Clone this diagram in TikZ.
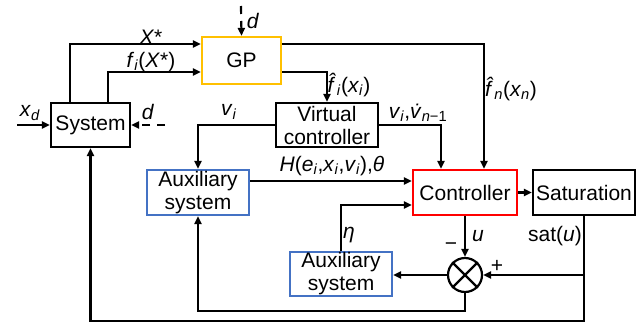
\documentclass[tikz,border=0pt]{standalone}
\usepackage{fontspec}
\setmainfont{Liberation Sans}
\usetikzlibrary{arrows.meta}

\definecolor{gpyellow}{HTML}{FFC000}
\definecolor{auxblue}{HTML}{4472C4}
\newcommand{\varsub}[2]{\textit{#1}\textsubscript{\textit{#2}}}

\begin{document}
\begin{tikzpicture}[x=1pt,y=-1pt,
    every node/.style={font=\fontsize{21}{23}\selectfont},
    block/.style={draw,line width=2.2pt,inner sep=0pt,align=center},
    lbl/.style={inner sep=0pt},
    arr/.style={line width=2.2pt,-{Triangle[length=8pt,width=7pt]}},
    dist/.style={arr,dash pattern=on 8pt off 7pt}]
    \useasboundingbox (0,0) rectangle (644,324);

    % blocks
    \node[block,minimum width=79,minimum height=44] (sys) at (90.5,125) {System};
    \node[block,draw=gpyellow,minimum width=79,minimum height=47] (gp) at (241.5,60.5) {GP};
    \node[block,minimum width=102,minimum height=44] (vc) at (327,125) {Virtual\\controller};
    \node[block,draw=auxblue,minimum width=102,minimum height=45] (aux1) at (198,192.5) {Auxiliary\\system};
    \node[block,draw=red,minimum width=104,minimum height=45] (ctrl) at (465,192.5) {Controller};
    \node[block,minimum width=102,minimum height=45] (sat) at (584,192.5) {Saturation};
    \node[block,draw=auxblue,minimum width=102,minimum height=44] (aux2) at (341,274) {Auxiliary\\system};
    \node[draw,circle,line width=2.2pt,minimum size=34,inner sep=0pt] (sum) at (465,275) {};
    \draw[line width=2.2pt] (sum.north east) -- (sum.south west);
    \draw[line width=2.2pt] (sum.north west) -- (sum.south east);

    % free ends
    \coordinate (xin) at (17,125);
    \coordinate (dsys) at (165,125);
    \coordinate (dgp) at (241,6);

    % signals around the system and GP
    \draw[arr] (xin) -- (sys.west);
    \draw[dist] (dsys) -- (sys.east);
    \draw[dist] (dgp) -- (gp.north);
    \draw[arr] (70,0 |- sys.north) |- (gp.west |- 0,44);
    \draw[arr] (108,0 |- sys.north) |- (gp.west |- 0,72);
    \draw[arr] (gp.east |- 0,44) -| (484,0 |- ctrl.north);
    \draw[arr] (gp.east |- 0,72) -| (vc.north);

    % virtual controller and auxiliary systems
    \draw[arr] (vc.west) -| (aux1.north);
    \draw[arr] (vc.east) -| (441,0 |- ctrl.north);
    \draw[arr] (aux1.east |- 0,181) -- (ctrl.west |- 0,181);
    \draw[arr] (aux2.north) |- (ctrl.west |- 0,205);

    % saturation loop
    \draw[arr] (ctrl.east) -- (sat.west);
    \draw[arr] (ctrl.south) -- (sum.north);
    \draw[arr] (sat.south) |- (sum.east);
    \draw[arr] (sum.west) -- (aux2.east |- sum.west);
    \draw[arr] (sum.south) |- (aux1.south |- 0,311) -- (aux1.south);
    \draw[arr] (sat.south) |- (sys.south |- 0,321) -- (sys.south);

    % labels
    \node[lbl] (lxd) at (30,113) {\varsub{x}{d}};
    \node[lbl] (ldsys) at (148,112) {\textit{d}};
    \node[lbl] (ldgp) at (253,21) {\textit{d}};
    \node[lbl] (lxs) at (151,37) {\textit{X}*};
    \node[lbl] (lfx) at (151,62) {\varsub{f}{i}(\textit{X}*)};
    \node[lbl] (lfi) at (349,85) {\varsub{\^{f}}{i}(\varsub{x}{i})};
    \node[lbl] (lfn) at (511,89) {\varsub{\^{f}}{n}(\varsub{x}{n})};
    \node[lbl] (lvi) at (229,112) {\varsub{v}{i}};
    \node[lbl] (lvd) at (418,113) {\varsub{v}{i},\textit{\.{v}}\textsubscript{\textit{n}−1}};
    \node[lbl] (lh) at (332,166) {\textit{H}(\varsub{e}{i},\varsub{x}{i},\varsub{v}{i}),\textit{θ}};
    \node[lbl] (leta) at (349,235) {\textit{η}};
    \node[lbl] (lu) at (478,236) {\textit{u}};
    \node[lbl] (lminus) at (451,247) {−};
    \node[lbl] (lplus) at (497,266) {+};
    \node[lbl] (lsat) at (555,236) {sat(\textit{u})};
\end{tikzpicture}
\end{document}
